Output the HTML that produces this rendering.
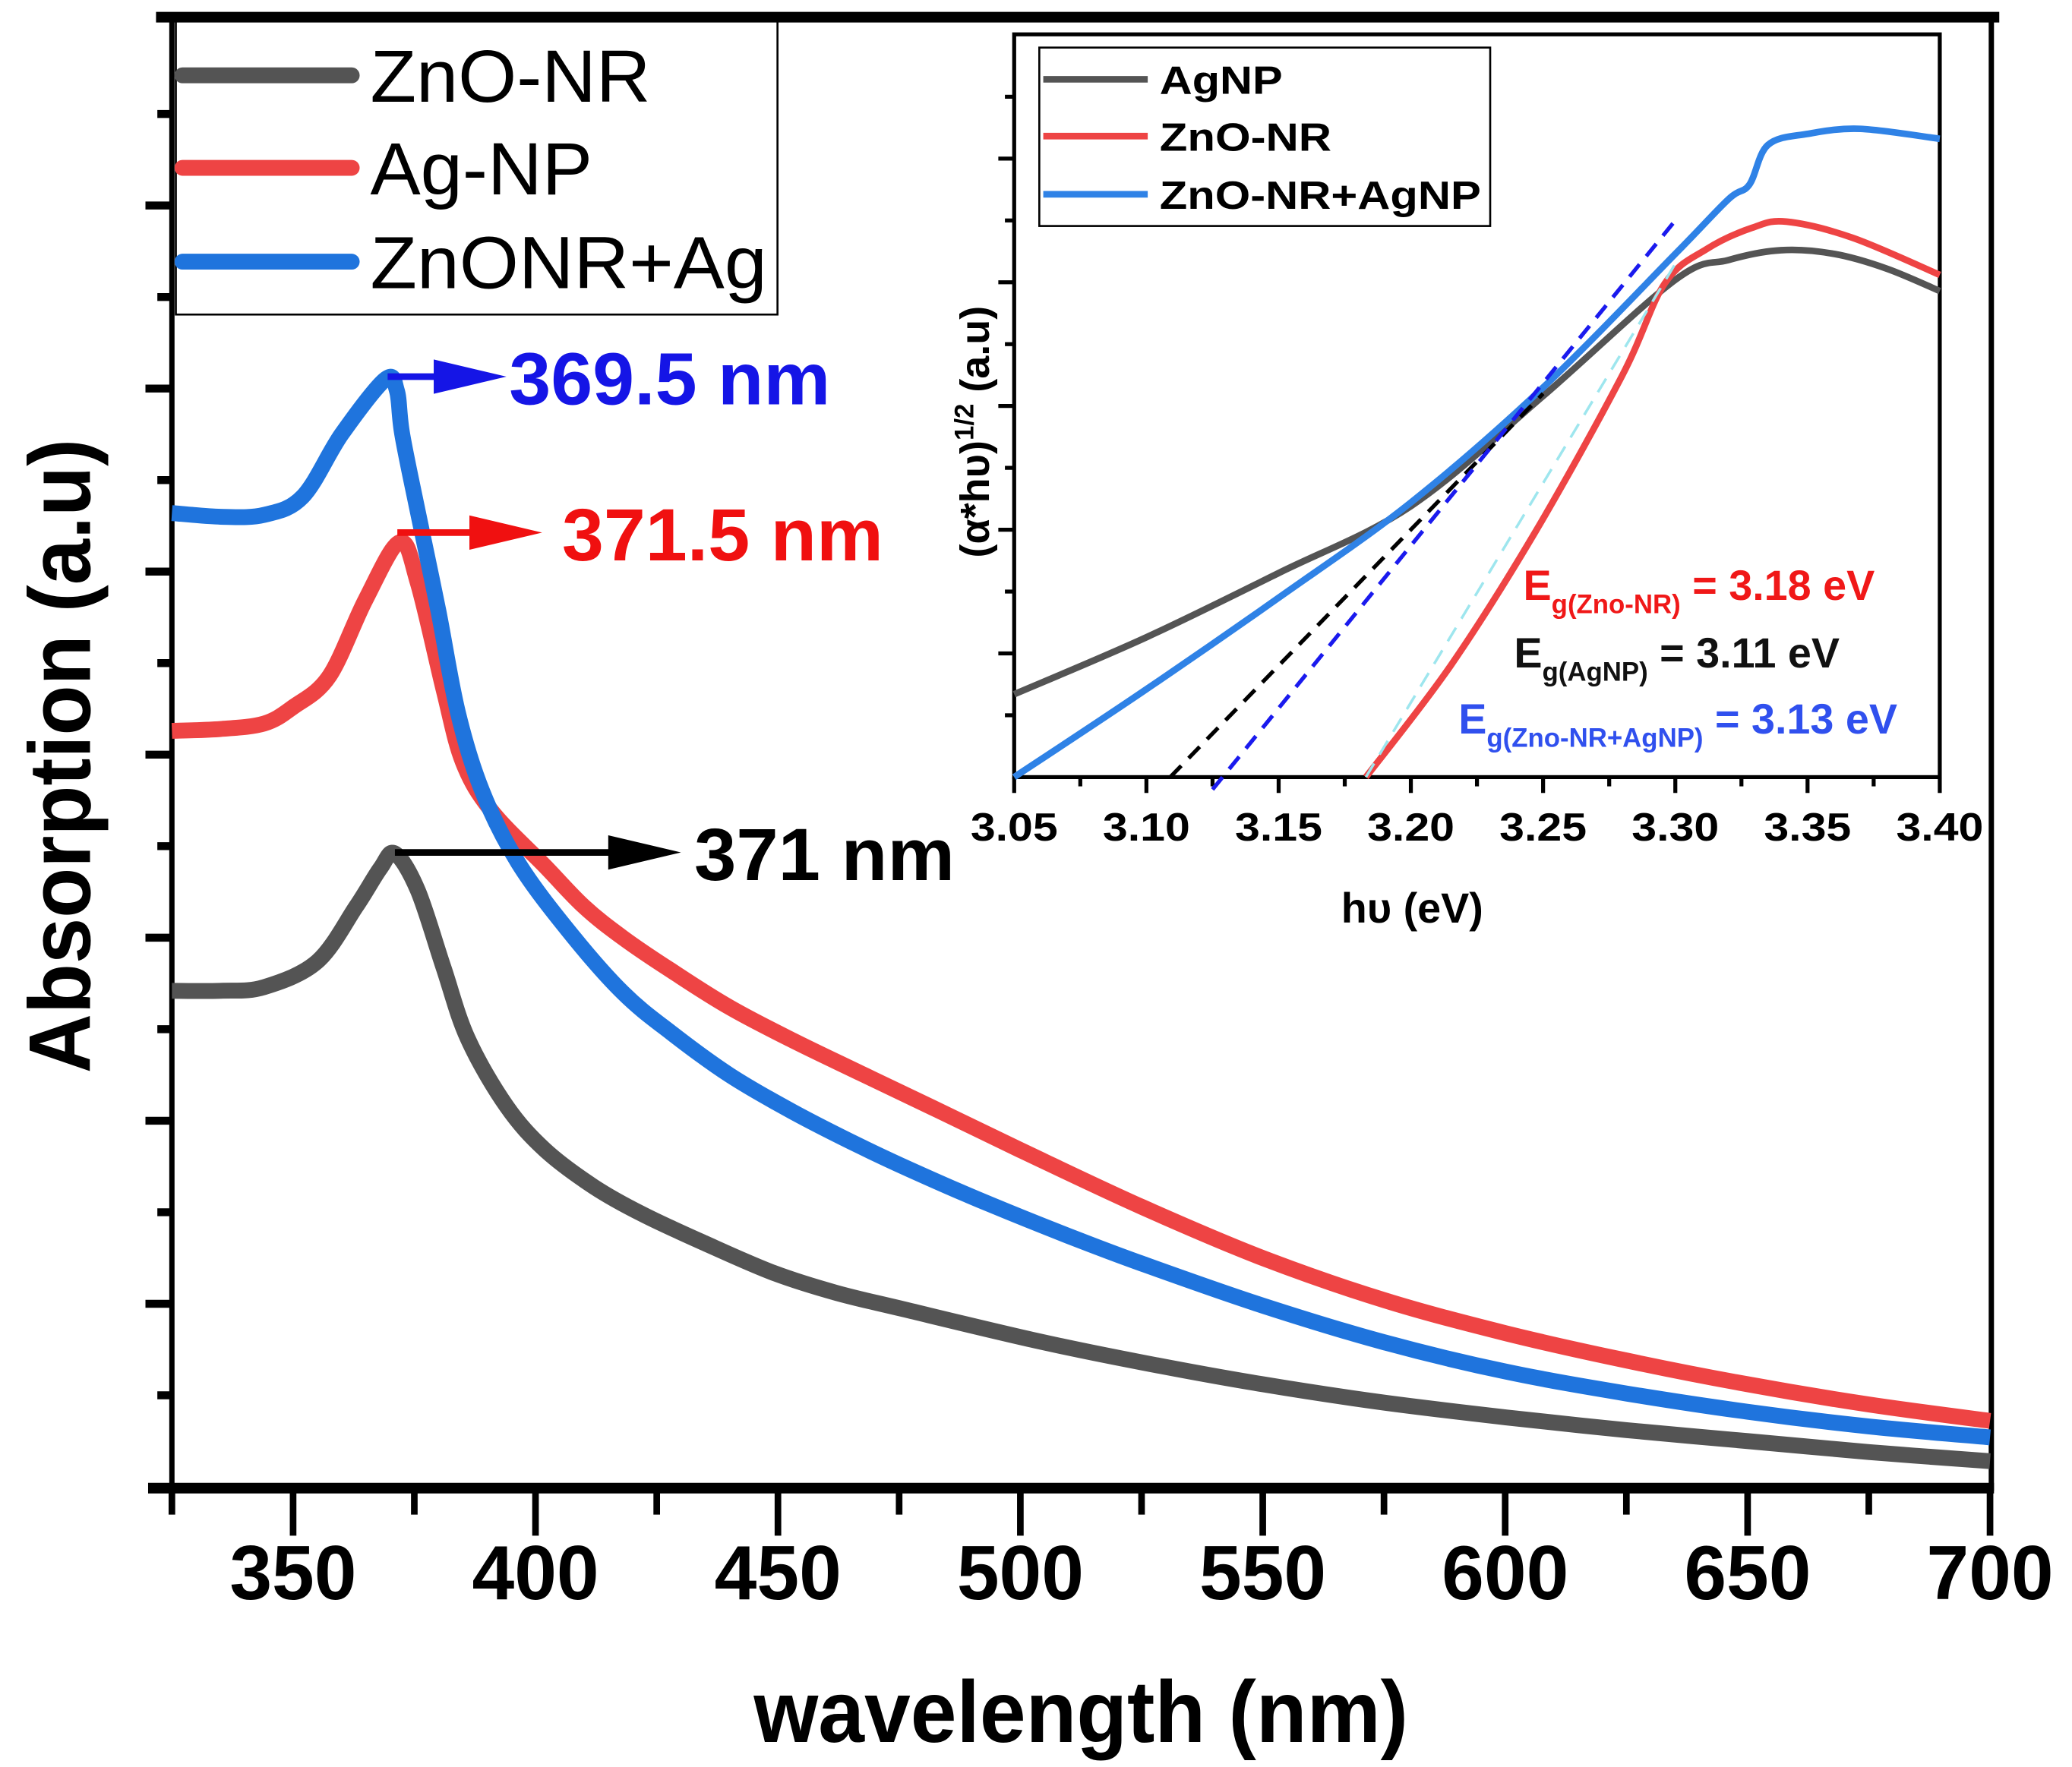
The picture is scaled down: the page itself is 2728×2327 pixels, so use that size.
<!DOCTYPE html>
<html><head><meta charset="utf-8"><style>
html,body{margin:0;padding:0;background:#fff;}
svg{display:block;}
text{font-family:"Liberation Sans",Arial,sans-serif;}
</style></head><body>
<svg id="chart" width="2728" height="2327" viewBox="0 0 1567 1337" preserveAspectRatio="none" xmlns="http://www.w3.org/2000/svg">
<g id="main"></g><g id="inset"></g>
</svg>
<script>
// ---- main chart data ----
const wlGray = [325,335,344,355,363,368,371,375.7,381,386,394,402,412,422,435,449,462,476,503,525,550,575,600,625,650,675,700];
const absGray = [2.71,2.71,2.73,2.87,3.17,3.38,3.46,3.26,2.84,2.45,2.08,1.84,1.64,1.49,1.33,1.17,1.06,0.97,0.80,0.68,0.56,0.46,0.38,0.31,0.25,0.19,0.14];
const wlRed = [325,335,344,350,357.5,365,372,375.7,381,385,391,402,410,418,428,440,453,467,482,500,525,550,575,600,625,650,675,700];
const absRed = [4.13,4.14,4.17,4.26,4.43,4.85,5.16,4.94,4.36,3.96,3.69,3.39,3.17,3.00,2.82,2.62,2.44,2.26,2.07,1.84,1.53,1.25,1.02,0.84,0.69,0.56,0.45,0.36];
const wlBlue = [325,335,344,352,360,369,371.4,372.5,375.7,380,384,389,396.4,407,418,428,440,453,467,480,494,510,525,550,575,600,625,650,675,700];
const absBlue = [5.32,5.30,5.31,5.41,5.75,6.05,5.99,5.75,5.33,4.78,4.23,3.80,3.41,3.03,2.70,2.48,2.25,2.05,1.86,1.70,1.54,1.37,1.22,0.99,0.79,0.63,0.51,0.41,0.33,0.27];
const xTicks = [350,400,450,500,550,600,650,700];
// ---- inset data ----
const evGray = [3.05,3.10,3.15,3.20,3.25,3.30,3.32,3.34,3.36,3.38,3.40];
const inGray = [0.67,1.13,1.65,2.19,3.08,4.02,4.18,4.26,4.23,4.11,3.93];
const evRed = [3.183,3.215,3.247,3.28,3.296,3.312,3.329,3.342,3.367,3.40];
const inRed = [0,0.90,1.98,3.25,3.99,4.27,4.44,4.49,4.36,4.06];
const evBlue = [3.05,3.10,3.15,3.20,3.25,3.30,3.32,3.328,3.335,3.35,3.37,3.40];
const inBlue = [0,0.71,1.45,2.22,3.15,4.23,4.67,4.79,5.11,5.20,5.24,5.16];
const fitBlack = [[3.109,0],[3.25,3.10]];
const fitBlue = [[3.125,-0.1],[3.30,4.50]];
const fitRed = [[3.183,0],[3.30,4.15]];
const inTicks = [3.05,3.10,3.15,3.20,3.25,3.30,3.35,3.40];

const NS="http://www.w3.org/2000/svg";
function mk(parent,tag,attrs,txt){const e=document.createElementNS(NS,tag);for(const k in attrs)e.setAttribute(k,attrs[k]);if(txt!==undefined)e.textContent=txt;parent.appendChild(e);return e;}
const M=document.getElementById('main'), I=document.getElementById('inset');
const X=v=>130+(v-325)*(1505-130)/375;
const Y=v=>1125-v*138.5;
function smooth(xs,ys,fx,fy){const p=xs.map((x,i)=>[fx(x),fy(ys[i])]);let d='M'+p[0][0].toFixed(1)+','+p[0][1].toFixed(1);
 for(let i=0;i<p.length-1;i++){const p0=p[Math.max(0,i-1)],p1=p[i],p2=p[i+1],p3=p[Math.min(p.length-1,i+2)];
  const c1=[p1[0]+(p2[0]-p0[0])/6,p1[1]+(p2[1]-p0[1])/6],c2=[p2[0]-(p3[0]-p1[0])/6,p2[1]-(p3[1]-p1[1])/6];
  d+='C'+c1[0].toFixed(1)+','+c1[1].toFixed(1)+' '+c2[0].toFixed(1)+','+c2[1].toFixed(1)+' '+p2[0].toFixed(1)+','+p2[1].toFixed(1);}
 return d;}
let e;
e=mk(M,'line',{x1:118,y1:13,x2:1512,y2:13,stroke:'#000','stroke-width':8});


e=mk(M,'line',{x1:130,y1:13,x2:130,y2:1128,stroke:'#000','stroke-width':4});


e=mk(M,'line',{x1:1506,y1:13,x2:1506,y2:1128,stroke:'#000','stroke-width':4});


e=mk(M,'line',{x1:112,y1:1126,x2:1508,y2:1126,stroke:'#000','stroke-width':8});


for(let i=1;i<=15;i++){const y=1125-i*69.25;if(y<15)break;const major=i%2==0;
 e=mk(M,'line',{x1:major?110:119,y1:y,x2:130,y2:y,stroke:'#000','stroke-width':6});
 
 }
for(let v=325;v<=700;v+=25){const major=v%50==0;
 e=mk(M,'line',{x1:X(v),y1:1126,x2:X(v),y2:major?1162:1146,stroke:'#000','stroke-width':5});
 
 }
xTicks.forEach(v=>{e=mk(M,'text',{x:X(v),y:1210,'text-anchor':'middle','font-size':58,'font-weight':'bold',textLength:96,lengthAdjust:'spacingAndGlyphs'},String(v));
 
 });
e=mk(M,'text',{x:570,y:1318,'font-size':66,'font-weight':'bold',textLength:495,lengthAdjust:'spacingAndGlyphs'},'wavelength (nm)');


e=mk(M,'text',{x:0,y:0,'font-size':66,'font-weight':'bold',textLength:480,lengthAdjust:'spacingAndGlyphs',transform:'translate(68,812) rotate(-90)'},'Absorption (a.u)');


const cols={gray:'#545454',red:'#ee4444',blue:'#1f74dd'};
e=mk(M,'path',{d:smooth(wlGray,absGray,X,Y),fill:'none',stroke:cols.gray,'stroke-width':12,'stroke-linejoin':'round'});


e=mk(M,'path',{d:smooth(wlRed,absRed,X,Y),fill:'none',stroke:cols.red,'stroke-width':12,'stroke-linejoin':'round'});


e=mk(M,'path',{d:smooth(wlBlue,absBlue,X,Y),fill:'none',stroke:cols.blue,'stroke-width':12,'stroke-linejoin':'round'});


e=mk(M,'rect',{x:133,y:13,width:455,height:225,fill:'none',stroke:'#000','stroke-width':1.5});


[['ZnO-NR',cols.gray,57,212],['Ag-NP',cols.red,127,168],['ZnONR+Ag',cols.blue,198,300]].forEach(l=>{
 e=mk(M,'line',{x1:138,y1:l[2],x2:266,y2:l[2],stroke:l[1],'stroke-width':12,'stroke-linecap':'round'});
 
 
 e=mk(M,'text',{x:280,y:l[2]+20,'font-size':56,textLength:l[3],lengthAdjust:'spacingAndGlyphs'},l[0]);
 
 });
function arrow(x1,x2,y,c,txt,tx,tw,name){
 e=mk(M,'line',{x1:x1,y1:y,x2:x2-40,y2:y,stroke:c,'stroke-width':5});
 
 
 mk(M,'polygon',{points:`${x2-55},${y-13} ${x2},${y} ${x2-55},${y+13}`,fill:c});
 e=mk(M,'text',{x:tx,y:y+21,'font-size':56,'font-weight':'bold',fill:c,textLength:tw,lengthAdjust:'spacingAndGlyphs'},txt);
 
 }
arrow(X(369.5),383,285,'#1515e6','369.5 nm',385,243,'peak-blue');
arrow(X(371.5),410,403,'#f01010','371.5 nm',425,243,'peak-red');
arrow(X(371),515,645,'#000','371 nm',525,197,'peak-black');

// ---- inset ----
const IX=v=>767+(v-3.05)*2000;
const IY=v=>588-v*93.6;
e=mk(I,'rect',{x:767,y:26,width:700,height:562,fill:'none',stroke:'#000','stroke-width':3});


for(let i=1;i<=12;i++){const y=588-i*46.8;if(y<30)break;
 e=mk(I,'line',{x1:i%2==0?755:760,y1:y,x2:767,y2:y,stroke:'#000','stroke-width':3});
 
 }
for(let v=3.05;v<=3.4001;v+=0.025){const k=Math.round((v-3.05)/0.025);
 e=mk(I,'line',{x1:IX(v),y1:588,x2:IX(v),y2:k%2==0?600:595,stroke:'#000','stroke-width':3});
 
 }
inTicks.forEach(v=>{e=mk(I,'text',{x:IX(v),y:636,'text-anchor':'middle','font-size':30,'font-weight':'bold',textLength:66,lengthAdjust:'spacingAndGlyphs'},v.toFixed(2));
 
 });
e=mk(I,'text',{x:1068,y:698,'text-anchor':'middle','font-size':32,'font-weight':'bold'},'hυ (eV)');


e=mk(I,'text',{x:0,y:0,'font-size':31,'font-weight':'bold',transform:'translate(748,422) rotate(-90)'});


mk(e,'tspan',{},'(α*hυ)');mk(e,'tspan',{dy:-12,'font-size':20},'1/2');mk(e,'tspan',{dy:12},' (a.u)');
e=mk(I,'path',{d:smooth(evGray,inGray,IX,IY),fill:'none',stroke:cols.gray,'stroke-width':5});


e=mk(I,'path',{d:smooth(evBlue,inBlue,IX,IY),fill:'none',stroke:'#2f82e6','stroke-width':5});


e=mk(I,'path',{d:smooth(evRed,inRed,IX,IY),fill:'none',stroke:cols.red,'stroke-width':5});


function fit(f,c,name,w){e=mk(I,'line',{x1:IX(f[0][0]),y1:IY(f[0][1]),x2:IX(f[1][0]),y2:IY(f[1][1]),stroke:c,'stroke-width':w,'stroke-dasharray':'12,8'});
 
 }
fit(fitBlack,'#000','fit-line-agnp',3);
fit(fitBlue,'#1a1aee','fit-line-zno-nr-agnp',3);
fit(fitRed,'#9ee6ee','fit-line-zno-nr',2);
e=mk(I,'rect',{x:786,y:36,width:341,height:135,fill:'#fff',stroke:'#000','stroke-width':1.5});


[['AgNP',cols.gray,60,93],['ZnO-NR',cols.red,103,130],['ZnO-NR+AgNP','#2f82e6',147,243]].forEach(l=>{
 e=mk(I,'line',{x1:789,y1:l[2],x2:868,y2:l[2],stroke:l[1],'stroke-width':5});
 
 
 e=mk(I,'text',{x:877,y:l[2]+11,'font-size':30,'font-weight':'bold',textLength:l[3],lengthAdjust:'spacingAndGlyphs'},l[0]);
 
 });
function eg(x,y,c,sub,val,name){e=mk(I,'text',{x:x,y:y,'font-size':32,'font-weight':'bold',fill:c});
 
 
 mk(e,'tspan',{},'E');mk(e,'tspan',{dy:10,'font-size':20},sub);mk(e,'tspan',{dy:-10},' = '+val);}
eg(1152,454,'#f01818','g(Zno-NR)','3.18 eV','eg-zno-nr-label');
eg(1145,505,'#111','g(AgNP)','3.11 eV','eg-agnp-label');
eg(1103,555,'#3050ee','g(Zno-NR+AgNP)','3.13 eV','eg-zno-nr-agnp-label');
</script>
</body></html>
